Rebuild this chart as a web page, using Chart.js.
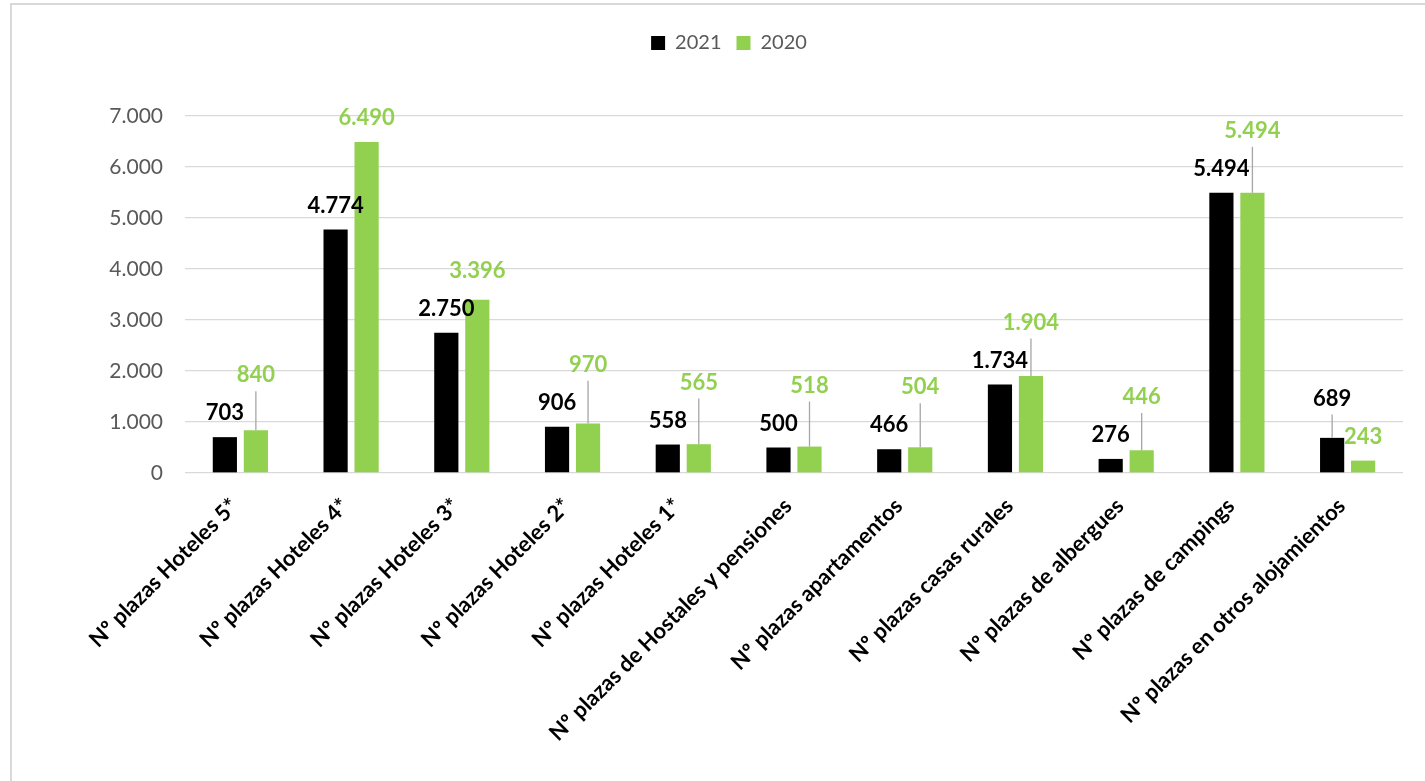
<!DOCTYPE html>
<html>
<head>
<meta charset="utf-8">
<script src="https://cdn.jsdelivr.net/npm/chart.js@4"></script>
<style>
  html, body { margin: 0; padding: 0; background: #fff; overflow: hidden; }
  #frame { position: absolute; left: 10px; top: 3px; width: 1430px; height: 800px;
           border-left: 2px solid #d9d9d9; border-top: 2px solid #d9d9d9; }
  #plazasChart { position: absolute; left: 0; top: 0; }
</style>
</head>
<body>
<div id="frame"></div>
<canvas id="plazasChart" width="1425" height="781"></canvas>
<script>
// Plazas de alojamiento por tipo, 2021 frente a 2020
const categorias = [
  'Nº plazas Hoteles 5*',
  'Nº plazas Hoteles 4*',
  'Nº plazas Hoteles 3*',
  'Nº plazas Hoteles 2*',
  'Nº plazas Hoteles 1*',
  'Nº plazas de Hostales y pensiones',
  'Nº plazas apartamentos',
  'Nº plazas casas rurales',
  'Nº plazas de albergues',
  'Nº plazas de campings',
  'Nº plazas en otros alojamientos'
];
const plazas2021 = [703, 4774, 2750, 906, 558, 500, 466, 1734, 276, 5494, 689];
const plazas2020 = [840, 6490, 3396, 970, 565, 518, 504, 1904, 446, 5494, 243];
const ticksY = [0, 1000, 2000, 3000, 4000, 5000, 6000, 7000];

const VERDE = '#92d050';
const NEGRO = '#000000';
const FUENTE = 'Lato, "Liberation Sans", sans-serif';

// miles con punto, como en el original
const miles = v => String(v).replace(/\B(?=(\d{3})+(?!\d))/g, '.');

// etiquetas de datos con líneas guía cuando se solapan
const etiquetas = {
  id: 'etiquetas',
  afterDatasetsDraw(chart) {
    const ctx = chart.ctx;
    const m0 = chart.getDatasetMeta(0);
    const m1 = chart.getDatasetMeta(1);
    const LIFT = 24, GAP = 38;
    ctx.save();
    ctx.font = 'bold 22px ' + FUENTE;
    ctx.textAlign = 'center';
    ctx.textBaseline = 'middle';
    m0.data.forEach((b0, i) => {
      const b1 = m1.data[i];
      const v0 = plazas2021[i], v1 = plazas2020[i];
      const n0 = b0.y - LIFT, n1 = b1.y - LIFT;
      let y0, y1;
      if (v1 >= v0) { y0 = n0; y1 = Math.min(n1, y0 - GAP); }
      else { y1 = n1; y0 = Math.min(n0, y1 - GAP); }
      [[b0, y0, n0, v0, NEGRO], [b1, y1, n1, v1, VERDE]].forEach(([b, y, n, v, col]) => {
        if (n - y > 6) {
          ctx.strokeStyle = '#a6a6a6';
          ctx.lineWidth = 1.3;
          ctx.beginPath();
          ctx.moveTo(b.x, y + 16);
          ctx.lineTo(b.x, b.y);
          ctx.stroke();
        }
        ctx.fillStyle = col;
        ctx.fillText(miles(v), b.x, y);
      });
    });
    ctx.restore();
  }
};

const alturaLeyenda = {
  id: 'alturaLeyenda',
  beforeInit(chart) {
    const fitOriginal = chart.legend.fit;
    chart.legend.fit = function () {
      fitOriginal.bind(chart.legend)();
      this.height = 98;
    };
  }
};

const ctx = document.getElementById('plazasChart').getContext('2d');
const plazasChart = new Chart(ctx, {
  type: 'bar',
  data: {
    labels: categorias,
    datasets: [
      { label: '2021', data: plazas2021, backgroundColor: NEGRO },
      { label: '2020', data: plazas2020, backgroundColor: VERDE }
    ]
  },
  options: {
    responsive: false,
    animation: false,
    layout: { padding: { top: 18, left: 55, right: 22, bottom: 0 } },
    datasets: { bar: { categoryPercentage: 0.56, barPercentage: 0.78 } },
    plugins: {
      tooltip: { enabled: false },
      legend: {
        position: 'top',
        labels: {
          boxWidth: 14, boxHeight: 14, padding: 15,
          color: '#595959',
          font: { family: FUENTE, size: 20 }
        }
      }
    },
    scales: {
      x: {
        grid: { display: false },
        border: { display: false },
        ticks: {
          color: '#000',
          font: { family: FUENTE, size: 22, weight: 'bold' },
          maxRotation: 45, minRotation: 45,
          autoSkip: false, padding: 12, labelOffset: -6
        },
        afterFit(scale) { scale.height = 308; }
      },
      y: {
        min: 0, max: 7000,
        afterBuildTicks(scale) { scale.ticks = ticksY.map(v => ({ value: v })); },
        grid: { color: '#d9d9d9', lineWidth: 1.3, drawTicks: false },
        border: { display: false },
        ticks: {
          color: '#595959',
          font: { family: FUENTE, size: 21 },
          padding: 22,
          callback: v => miles(v)
        },
        afterFit(scale) { scale.width = 130; }
      }
    }
  },
  plugins: [alturaLeyenda, etiquetas]
});
</script>
</body>
</html>
